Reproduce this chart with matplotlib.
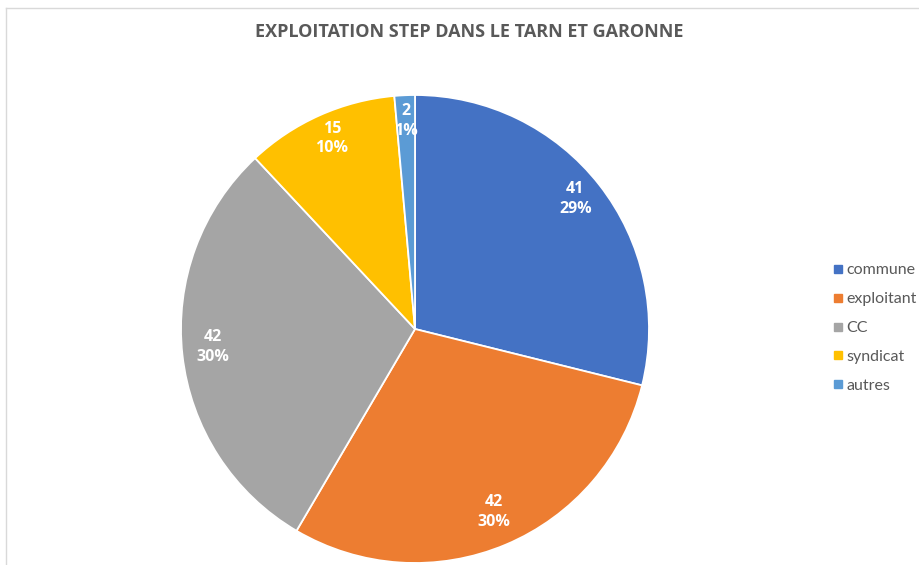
import matplotlib
matplotlib.use("Agg")
import matplotlib.pyplot as plt
from matplotlib.lines import Line2D
import numpy as np

categories = ["commune", "exploitant", "CC", "syndicat", "autres"]
values = [41, 42, 42, 15, 2]
pct_labels = ["29%", "30%", "30%", "10%", "1%"]
colors = ["#4472C4", "#ED7D31", "#A5A5A5", "#FFC000", "#5B9BD5"]
title = "EXPLOITATION STEP DANS LE TARN ET GARONNE"

plt.rcParams['font.family'] = ['Lato', 'DejaVu Sans']
BOLD = ['Open Sans', 'DejaVu Sans']

W, H = 919, 565
fig = plt.figure(figsize=(W / 100, H / 100), dpi=100)

# chart border
fig.add_artist(Line2D([6 / W, 6 / W], [0, 1 - 8 / H], color="#d9d9d9", lw=1))
fig.add_artist(Line2D([6 / W, 1], [1 - 8 / H, 1 - 8 / H], color="#d9d9d9", lw=1))

cx, cy, r = 415, 329, 234
ax = fig.add_axes([(cx - r) / W, (H - cy - r) / H, 2 * r / W, 2 * r / H])
wedges, _ = ax.pie(values, colors=colors, startangle=90, counterclock=False,
                   radius=1, wedgeprops=dict(edgecolor="white", linewidth=1.3))
ax.set_xlim(-1, 1)
ax.set_ylim(-1, 1)
ax.set_aspect("equal")
ax.axis("off")

total = sum(values)
start = 90.0
for v, p in zip(values, pct_labels):
    ang = start - v / total * 360 / 2
    start -= v / total * 360
    rr = 0.87
    x = rr * np.cos(np.radians(ang))
    y = rr * np.sin(np.radians(ang)) + 0.02
    ax.text(x, y, f"{v}\n{p}", ha="center", va="center", color="white",
            fontsize=11.5, fontweight="bold", linespacing=1.3, family=BOLD)

fig.text(469 / W, 1 - 32 / H, title, ha="center", va="center",
         fontsize=13, fontweight="bold", color="#595959", family=BOLD)

handles = [Line2D([], [], marker="s", linestyle="none", markersize=6,
                  markerfacecolor=c, markeredgecolor=c) for c in colors]
fig.legend(handles, categories, loc="center left",
           bbox_to_anchor=(825 / W, 1 - 328 / H), frameon=False,
           fontsize=11.5, labelcolor="#595959", handlelength=0.6,
           handletextpad=0.25, labelspacing=0.92, borderpad=0)

fig.savefig("out.png", dpi=100, facecolor="white")
